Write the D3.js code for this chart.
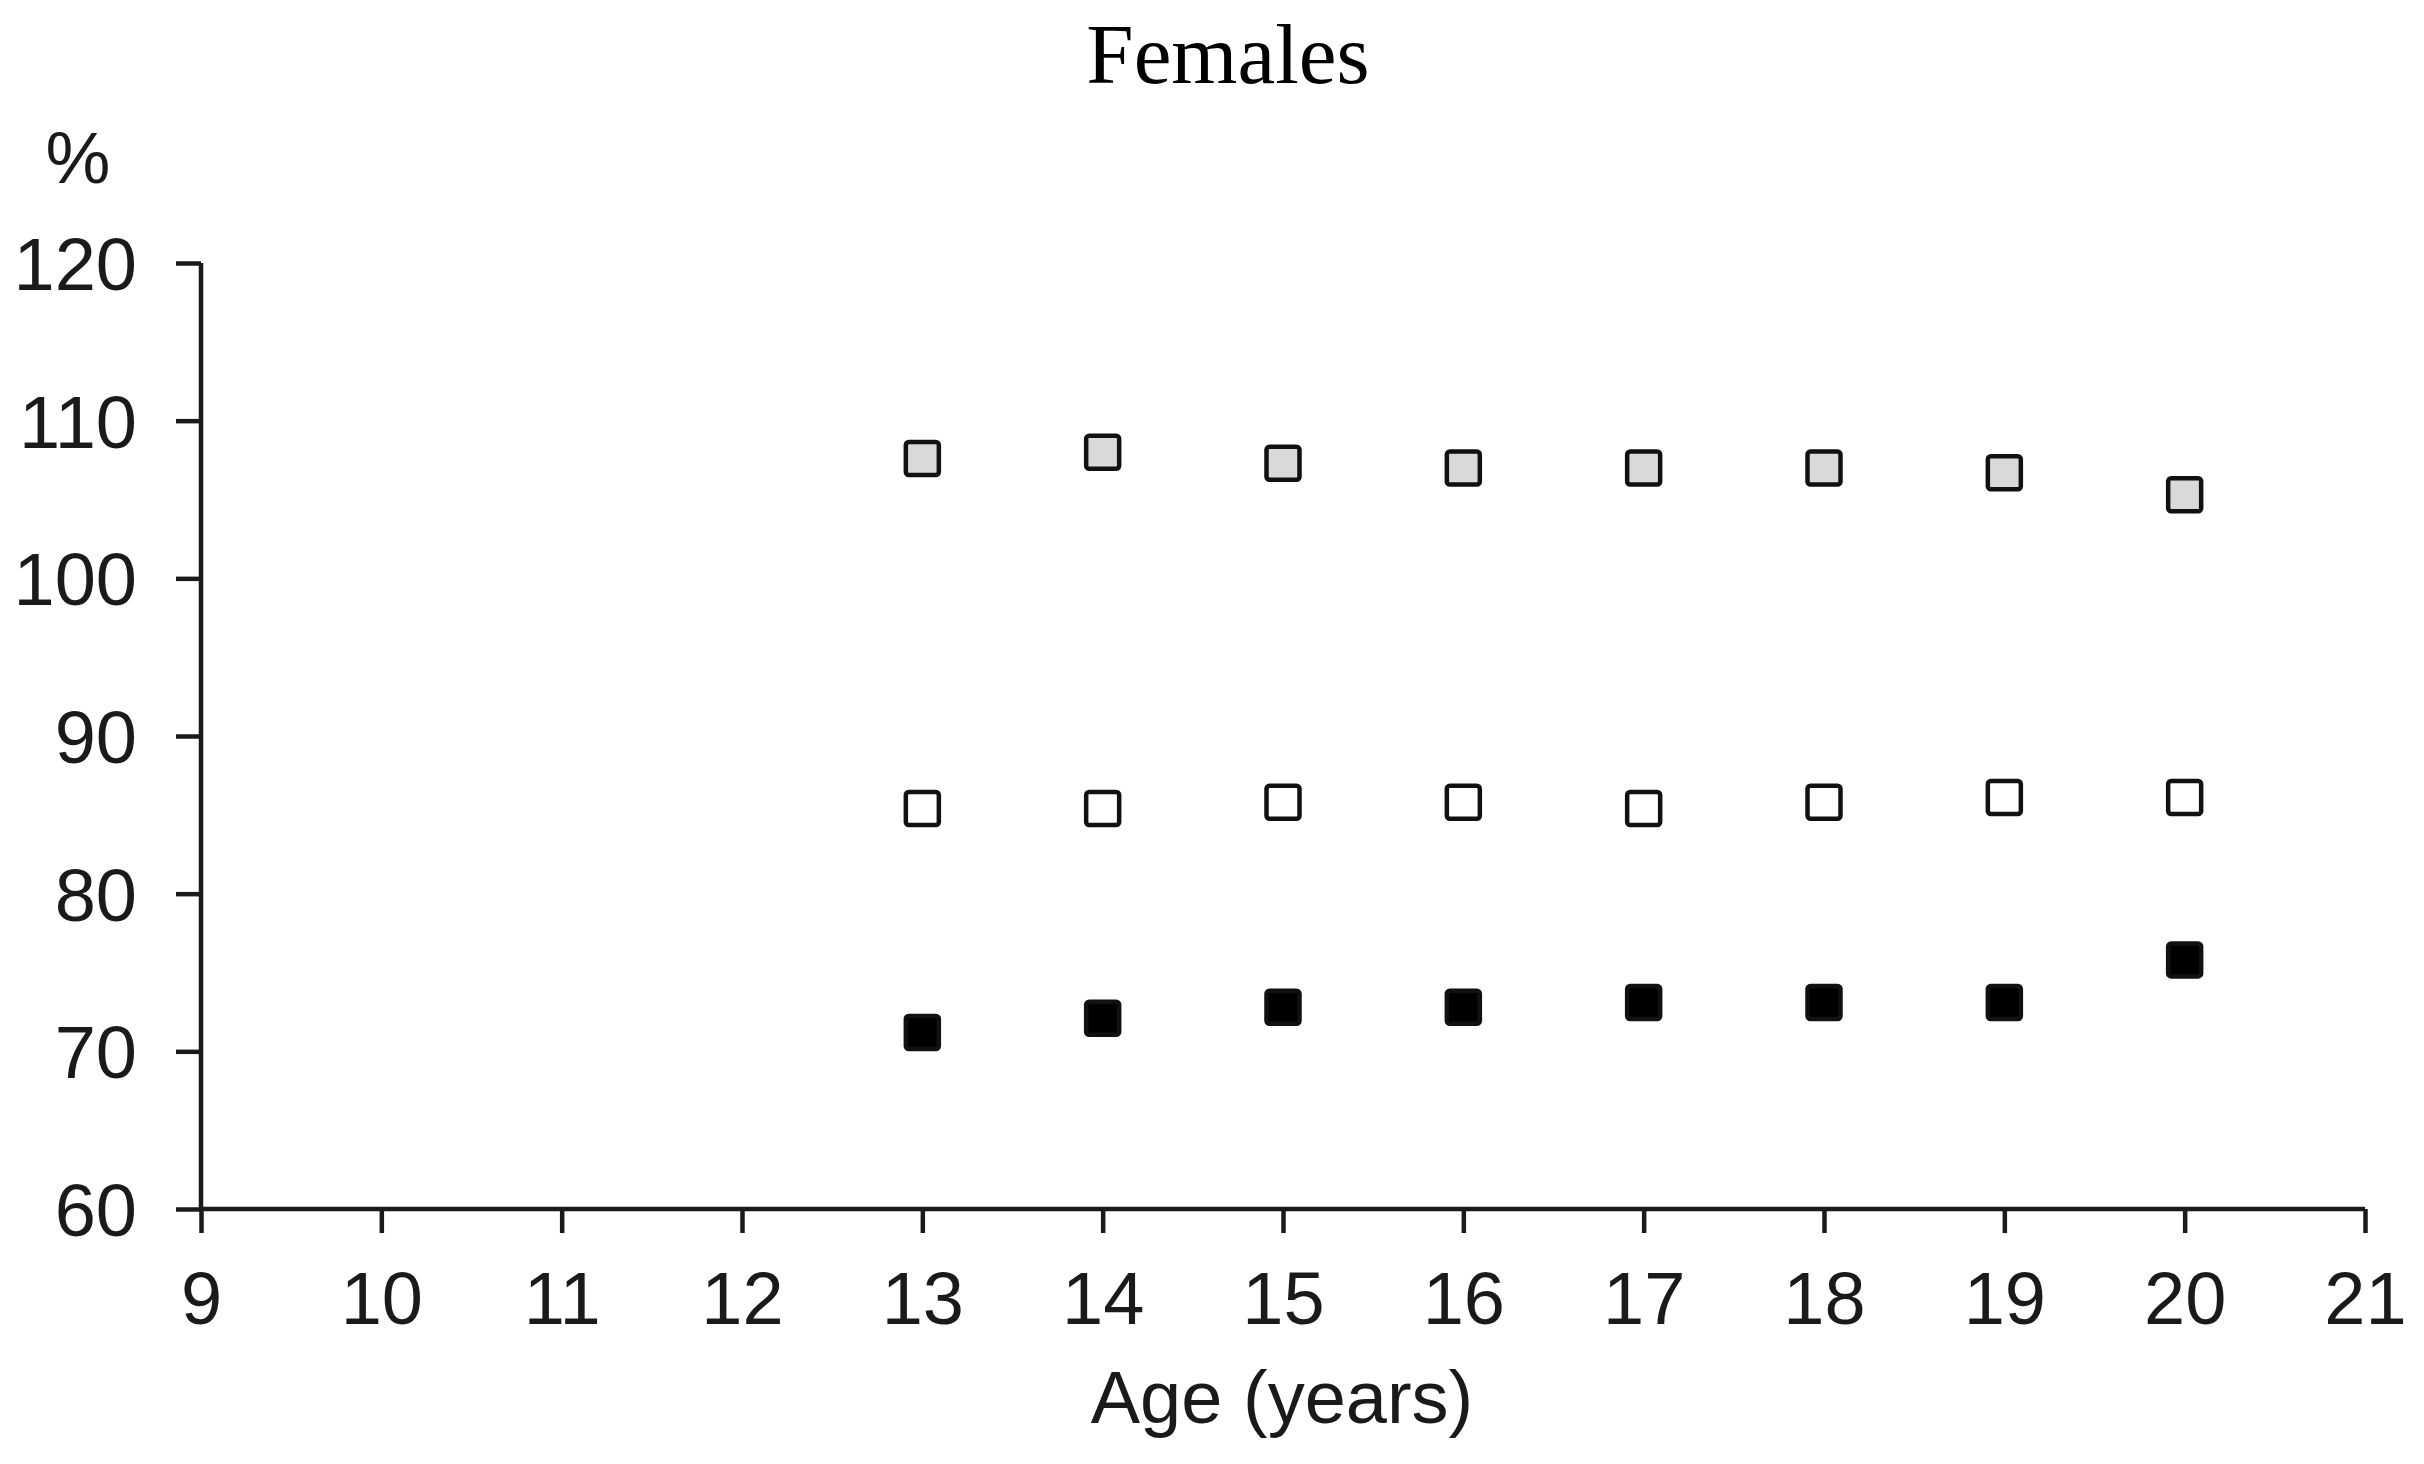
<!DOCTYPE html>
<html>
<head>
<meta charset="utf-8">
<script src="https://cdn.jsdelivr.net/npm/d3@7"></script>
<style>
  html, body { margin: 0; padding: 0; background: #fff; }
  svg { display: block; }
</style>
</head>
<body>
<svg id="chart" width="2424" height="1464"></svg>
<script>
// ---- data ----
const ages = [13, 14, 15, 16, 17, 18, 19, 20];
const seriesGrey  = [107.6, 108.0, 107.3, 107.0, 107.0, 107.0, 106.7, 105.3];
const seriesWhite = [85.4, 85.4, 85.8, 85.8, 85.4, 85.8, 86.1, 86.1];
const seriesBlack = [71.2, 72.1, 72.8, 72.8, 73.1, 73.1, 73.1, 75.8];
const xTicks = [9, 10, 11, 12, 13, 14, 15, 16, 17, 18, 19, 20, 21];
const yTicks = [60, 70, 80, 90, 100, 110, 120];

const series = [
  { name: "grey",  values: seriesGrey,  fill: "#d9d9d9" },
  { name: "white", values: seriesWhite, fill: "#ffffff" },
  { name: "black", values: seriesBlack, fill: "#000000" }
];

// ---- layout ----
const svg = d3.select("#chart");
const x = d3.scaleLinear().domain([9, 21]).range([201, 2365]);
const y = d3.scaleLinear().domain([60, 120]).range([1209, 263]);
const sans = "'Liberation Sans', Arial, sans-serif";
const textColor = "#1a1a1a";

// title
svg.append("text")
  .attr("x", 1228).attr("y", 83)
  .attr("text-anchor", "middle")
  .attr("font-family", "'Liberation Serif', 'DejaVu Serif', serif")
  .attr("font-size", 85)
  .attr("fill", "#000")
  .text("Females");

// y unit
svg.append("text")
  .attr("x", 78).attr("y", 183)
  .attr("text-anchor", "middle")
  .attr("font-family", sans)
  .attr("font-size", 73)
  .attr("fill", textColor)
  .text("%");

// axes
const yAxis = d3.axisLeft(y).tickValues(yTicks).tickSize(25).tickPadding(39).tickFormat(d3.format("d"));
const xAxis = d3.axisBottom(x).tickValues(xTicks).tickSize(24).tickPadding(38).tickFormat(d3.format("d"));

const gy = svg.append("g").attr("transform", `translate(${x(9)},0)`).call(yAxis);
const gx = svg.append("g").attr("transform", `translate(0,${y(60)})`).call(xAxis);

[gx, gy].forEach(g => {
  g.select(".domain").attr("stroke", "#1a1a1a").attr("stroke-width", 4.5)
    .attr("d", null);
  g.selectAll(".tick line").attr("stroke", "#1a1a1a").attr("stroke-width", 4.5);
  g.selectAll(".tick text")
    .attr("font-family", sans)
    .attr("font-size", 74)
    .attr("fill", textColor);
});
// domain lines without outer ticks (drawn as plain lines)
gy.select(".domain").attr("d", `M0,${y(120)}V${y(60)}`);
gx.select(".domain").attr("d", `M${x(9)},0H${x(21)}`);
gy.selectAll(".tick text").attr("dy", "0.36em");

// x axis title
svg.append("text")
  .attr("x", 1282).attr("y", 1423)
  .attr("text-anchor", "middle")
  .attr("font-family", sans)
  .attr("font-size", 74)
  .attr("fill", textColor)
  .text("Age (years)");

// markers
const size = 33;
series.forEach(s => {
  svg.append("g").selectAll("rect")
    .data(ages.map((a, i) => ({ age: a, v: s.values[i] })))
    .join("rect")
    .attr("x", d => x(d.age) - size / 2)
    .attr("y", d => y(d.v) - size / 2)
    .attr("width", size).attr("height", size)
    .attr("rx", 3).attr("ry", 3)
    .attr("fill", s.fill)
    .attr("stroke", "#111")
    .attr("stroke-width", 4.5);
});
</script>
</body>
</html>
